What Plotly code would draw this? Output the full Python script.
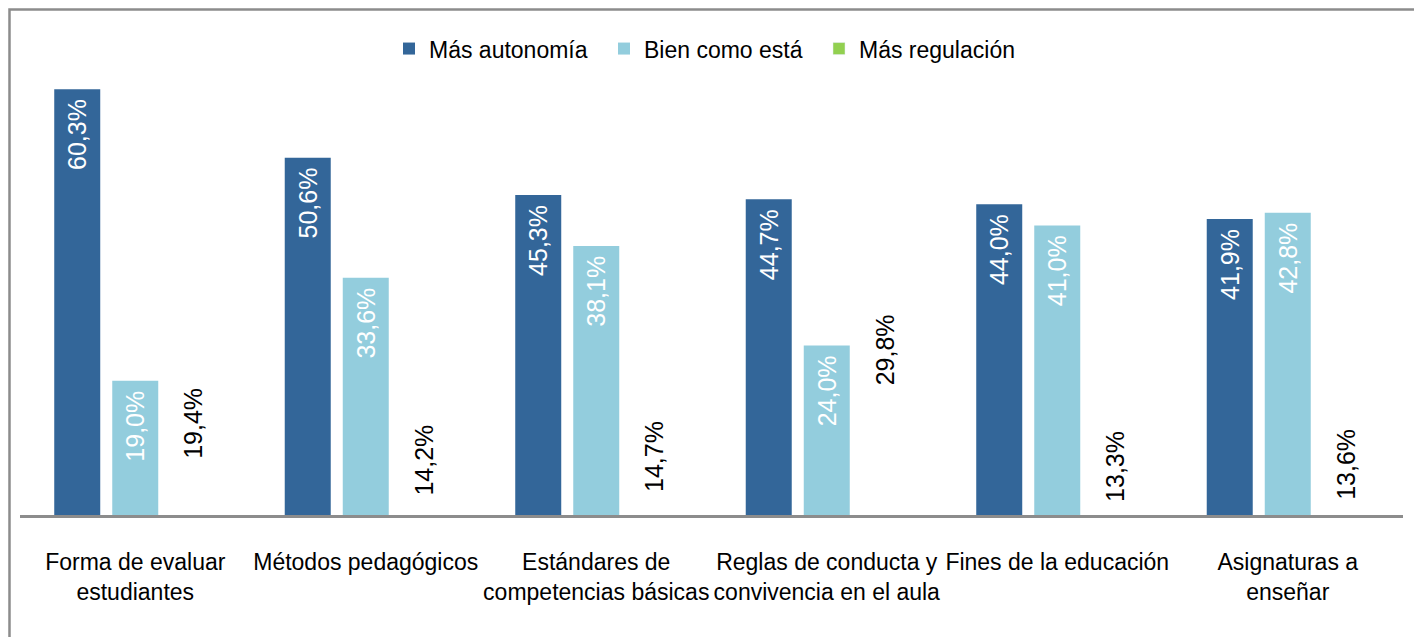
import plotly.graph_objects as go

categories = [
    "Forma de evaluar<br>estudiantes",
    "Métodos pedagógicos",
    "Estándares de<br>competencias básicas",
    "Reglas de conducta y<br>convivencia en el aula",
    "Fines de la educación",
    "Asignaturas a<br>enseñar",
]
mas_autonomia = [60.3, 50.6, 45.3, 44.7, 44.0, 41.9]
bien_como_esta = [19.0, 33.6, 38.1, 24.0, 41.0, 42.8]
mas_regulacion = [19.4, 14.2, 14.7, 29.8, 13.3, 13.6]

FONT = "Liberation Sans Narrow, Arial Narrow, Liberation Sans, sans-serif"
PAD = "\u00a0"


def fmt(vals):
    return [f"{v:.1f}%".replace(".", ",") + PAD for v in vals]


fig = go.Figure()

fig.add_trace(go.Bar(
    x=categories, y=mas_autonomia, name="Más autonomía", offsetgroup="a",
    marker=dict(color="#336699", line=dict(width=0)),
    text=fmt(mas_autonomia), textposition="inside", insidetextanchor="end",
    textangle=-90, constraintext="none",
    textfont=dict(color="white", size=25, family=FONT),
))
fig.add_trace(go.Bar(
    x=categories, y=bien_como_esta, name="Bien como está", offsetgroup="b",
    marker=dict(color="#93CDDD", line=dict(width=0)),
    text=fmt(bien_como_esta), textposition="inside", insidetextanchor="end",
    textangle=-90, constraintext="none",
    textfont=dict(color="white", size=25, family=FONT),
))
# third series has no fill in the original; only its labels show
fig.add_trace(go.Bar(
    x=categories, y=mas_regulacion, name="Más regulación", offsetgroup="c",
    marker=dict(color="rgba(0,0,0,0)", line=dict(width=0)),
    text=fmt(mas_regulacion), textposition="inside", insidetextanchor="end",
    textangle=-90, constraintext="none",
    textfont=dict(color="black", size=25, family=FONT),
    showlegend=False,
))
# legend entry for the third series
fig.add_trace(go.Bar(
    x=[None], y=[None], name="Más regulación", offsetgroup="c",
    marker=dict(color="#92D050"),
))

fig.update_layout(
    width=1422, height=637,
    margin=dict(l=12, r=27, t=67, b=130),
    paper_bgcolor="white", plot_bgcolor="white",
    barmode="group", bargap=0.245, bargroupgap=0.207,
    font=dict(family=FONT, size=22, color="black"),
    legend=dict(
        orientation="h", x=0.5, xanchor="center", y=1.06, yanchor="middle",
        font=dict(size=23), traceorder="normal", itemwidth=30,
        entrywidth=170, entrywidthmode="pixels",
    ),
    xaxis=dict(
        showline=True, linecolor="#8c8c8c", linewidth=3,
        showgrid=False, ticks="", ticklabelstandoff=24,
        tickfont=dict(size=23, family=FONT),
    ),
    yaxis=dict(
        range=[0, 62.3], visible=False, showgrid=False,
    ),
    shapes=[dict(
        type="rect", xref="paper", yref="paper",
        x0=-0.0076, x1=1.009, y0=-0.3, y1=1.149,
        line=dict(color="#8c8c8c", width=2.5),
    )],
)

fig.write_html("out.html")
